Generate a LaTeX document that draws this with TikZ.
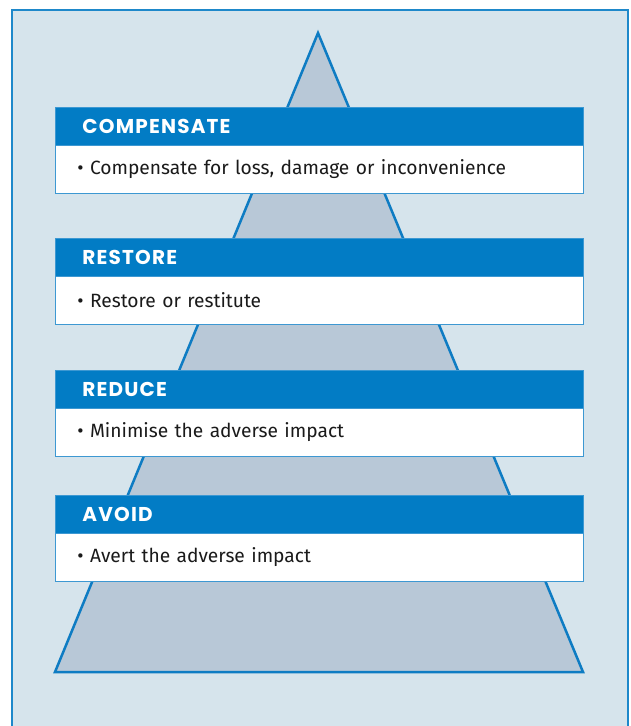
\documentclass[tikz,border=0pt]{standalone}
\usepackage{fontspec}
\setmainfont{Fira Sans}
\newfontfamily\headfont[LetterSpace=6]{Poppins}
\definecolor{framefill}{HTML}{D6E4EC}
\definecolor{frameline}{HTML}{1E88CA}
\definecolor{trifill}{HTML}{B8C8D7}
\definecolor{triline}{HTML}{0E7CC3}
\definecolor{headblue}{HTML}{027CC5}
\definecolor{boxline}{HTML}{3D98D2}
\definecolor{bodytext}{HTML}{1A1A1A}
\begin{document}
\begin{tikzpicture}[x=1pt,y=-1pt,
  header/.style={anchor=north west, fill=headblue, draw=boxline, line width=0.8pt,
    minimum width=528pt, minimum height=38pt, text width=474pt, inner xsep=27pt,
    align=left, text=white, font=\headfont\fontsize{20}{22}\selectfont\bfseries},
  body/.style={anchor=north west, fill=white, draw=boxline, line width=0.8pt,
    minimum width=528pt, minimum height=48pt, text width=484pt, inner xsep=22pt,
    align=left, text=bodytext, font=\fontsize{19.2}{21}\selectfont}]
\useasboundingbox (0,0) rectangle (631,726);
\fill[white] (0,0) rectangle (631,726);
\draw[fill=framefill, draw=frameline, line width=2pt] (12,10) rectangle (628,740);
\draw[fill=trifill, draw=triline, line width=2.5pt, line join=miter]
  (318,33) -- (55,672) -- (583,672) -- cycle;
\node[header] (h1) at (55,107) {COMPENSATE};
\node[body] (b1) at (55,145) {• Compensate for loss, damage or inconvenience};
\node[header] (h2) at (55,238) {RESTORE};
\node[body] (b2) at (55,276) {• Restore or restitute};
\node[header] (h3) at (55,370) {REDUCE};
\node[body] (b3) at (55,408) {• Minimise the adverse impact};
\node[header] (h4) at (55,495) {AVOID};
\node[body] (b4) at (55,533) {• Avert the adverse impact};
\end{tikzpicture}
\end{document}
